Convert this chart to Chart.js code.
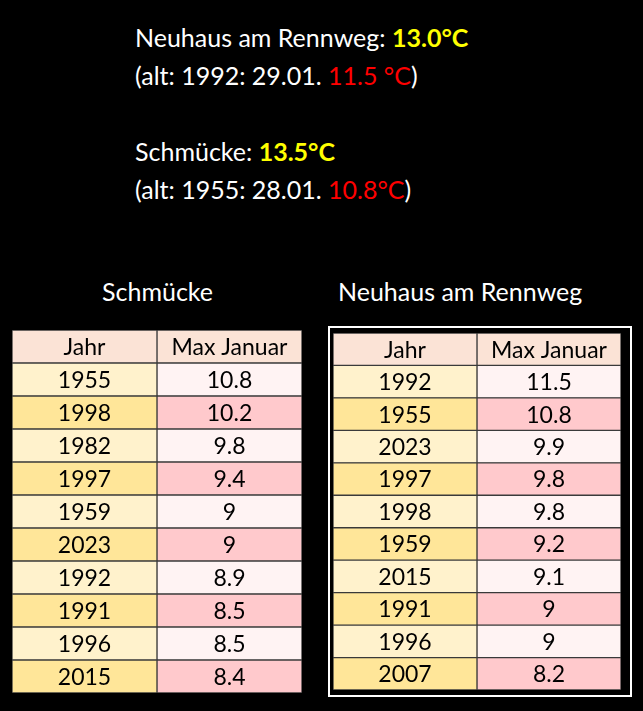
<!DOCTYPE html>
<html>
<head>
<meta charset="utf-8">
<script src="https://cdn.jsdelivr.net/npm/chart.js@4"></script>
<style>
body { margin:0; width:643px; height:711px; background:#000; position:relative; overflow:hidden; font-family:Lato, "Open Sans", sans-serif; color:#fff; }
.t { position:absolute; font-size:25px; white-space:nowrap; }
.y { color:#ffff00; font-weight:bold; }
.r { color:#ff0000; }
.box { position:absolute; }
</style>
</head>
<body>
<div class="t" style="left:135px;top:22px">Neuhaus am Rennweg: <span class="y">13.0°C</span></div>
<div class="t" style="left:135px;top:60px">(alt: 1992: 29.01. <span class="r">11.5 °C</span>)</div>
<div class="t" style="left:135px;top:136px">Schmücke: <span class="y">13.5°C</span></div>
<div class="t" style="left:135px;top:174px">(alt: 1955: 28.01. <span class="r">10.8°C</span>)</div>
<div class="t" style="left:102px;top:276px">Schmücke</div>
<div class="t" style="left:338px;top:276px">Neuhaus am Rennweg</div>
<div class="box" style="left:328px;top:326px;width:300px;height:367px;border:2px solid #fff"></div>
<div class="box" style="left:12px;top:330px;width:290px;height:363px"><canvas id="c1"></canvas></div>
<div class="box" style="left:333px;top:333px;width:288px;height:357px"><canvas id="c2"></canvas></div>
<script>
// ---- data ----
var headers = ["Jahr", "Max Januar"];
var schmueckeYears = ["1955","1998","1982","1997","1959","2023","1992","1991","1996","2015"];
var schmueckeMax = ["10.8","10.2","9.8","9.4","9","9","8.9","8.5","8.5","8.4"];
var neuhausYears = ["1992","1955","2023","1997","1998","1959","2015","1991","1996","2007"];
var neuhausMax = ["11.5","10.8","9.9","9.8","9.8","9.2","9.1","9","9","8.2"];

var headColor = "#fbe3d6";
var yearColors = ["#fff2cc", "#ffe699"];
var maxColors = ["#fff3f3", "#ffc9cc"];

function makeTable(id, years, maxes) {
  var rows = [headers[0]].concat(years);
  var labels = rows.map(function (r, i) { return "r" + i; });
  var texts = [[headers[0]].concat(years), [headers[1]].concat(maxes)];
  var col = function (c, palette) {
    return {
      data: labels.map(function () { return c === 0 ? [0, 1] : [1, 2]; }),
      backgroundColor: labels.map(function (l, i) { return i === 0 ? headColor : palette[(i + 1) % 2]; }),
      borderColor: "#3a3a3a", borderWidth: 1, borderSkipped: false,
      barPercentage: 1, categoryPercentage: 1, grouped: false
    };
  };
  var textPlugin = {
    id: "cellText",
    afterDatasetsDraw: function (chart) {
      var ctx = chart.ctx, xs = chart.scales.x, ys = chart.scales.y;
      ctx.save();
      ctx.fillStyle = "#000";
      ctx.textAlign = "center";
      ctx.textBaseline = "middle";
      ctx.font = "23px Lato, 'Open Sans', sans-serif";
      for (var c = 0; c < 2; c++) {
        for (var i = 0; i < labels.length; i++) {
          ctx.fillText(texts[c][i], xs.getPixelForValue(c + 0.5), ys.getPixelForValue(i) + 1);
        }
      }
      ctx.restore();
    }
  };
  new Chart(document.getElementById(id), {
    type: "bar",
    data: { labels: labels, datasets: [col(0, yearColors), col(1, maxColors)] },
    options: {
      indexAxis: "y", responsive: true, maintainAspectRatio: false, animation: false,
      layout: { padding: 0 },
      plugins: { legend: { display: false }, tooltip: { enabled: false } },
      scales: {
        x: { display: false, min: 0, max: 2 },
        y: { display: false }
      }
    },
    plugins: [textPlugin]
  });
}
makeTable("c1", schmueckeYears, schmueckeMax);
makeTable("c2", neuhausYears, neuhausMax);
</script>
</body>
</html>
